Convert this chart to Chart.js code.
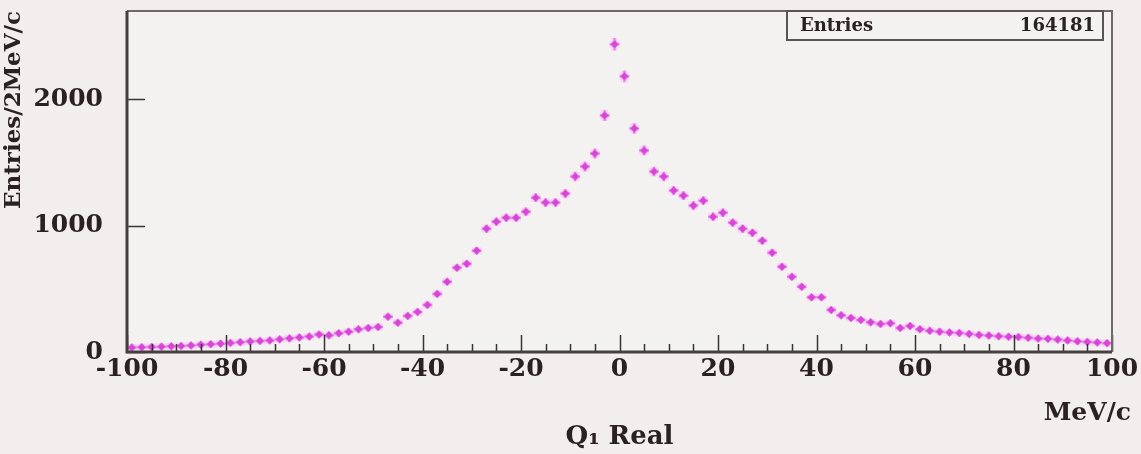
<!DOCTYPE html>
<html>
<head>
<meta charset="utf-8">
<script src="https://cdn.jsdelivr.net/npm/chart.js@4.4.1/dist/chart.umd.min.js"></script>
<style>
  html, body { margin: 0; padding: 0; background: #f2eeee; }
  #wrap { width: 1141px; height: 454px; }
</style>
</head>
<body>
<div id="wrap"><canvas id="c" width="1141" height="454"></canvas></div>
<script>
// ---- data ----
const binCenters = [
  -99,-97,-95,-93,-91,-89,-87,-85,-83,-81,-79,-77,-75,-73,-71,-69,-67,-65,-63,-61,
  -59,-57,-55,-53,-51,-49,-47,-45,-43,-41,-39,-37,-35,-33,-31,-29,-27,-25,-23,-21,
  -19,-17,-15,-13,-11,-9,-7,-5,-3,-1,
  1,3,5,7,9,11,13,15,17,19,21,23,25,27,29,31,33,35,37,39,
  41,43,45,47,49,51,53,55,57,59,61,63,65,67,69,71,73,75,77,79,
  81,83,85,87,89,91,93,95,97,99
];
const entries = [
  35,38,40,42,45,48,52,58,62,66,72,78,84,88,92,100,108,115,122,138,
  132,148,160,180,190,198,280,232,286,317,373,460,556,667,698,802,976,1032,1063,1063,
  1111,1222,1183,1183,1254,1389,1468,1571,1873,2437,
  2183,1770,1595,1429,1389,1278,1238,1159,1198,1071,1103,1024,976,944,881,786,675,595,516,433,
  433,333,290,270,254,235,222,228,190,205,180,168,160,155,150,143,135,130,125,120,
  118,112,106,104,98,92,85,80,75,70
];
const binWidth = 2;
const xTickValues = [-100,-80,-60,-40,-20,0,20,40,60,80,100];
const yTickValues = [0,1000,2000];
const statsLabel = "Entries";
const statsValue = "164181";

const SERIF = "'DejaVu Serif', 'Liberation Serif', serif";
const points = binCenters.map((c, i) => ({ x: c, y: entries[i] }));
const TARGET = { left: 127, top: 11, right: 1112, bottom: 352 };

const bgPlugin = {
  id: 'bg',
  beforeDraw(chart) {
    const ctx = chart.ctx;
    ctx.save();
    ctx.fillStyle = '#f2eeee';
    ctx.fillRect(0, 0, chart.width, chart.height);
    const a = chart.chartArea;
    ctx.fillStyle = '#f4f1f1';
    ctx.fillRect(a.left, a.top, a.right - a.left, a.bottom - a.top);
    ctx.restore();
  }
};

const errPlugin = {
  id: 'errbars',
  beforeDatasetsDraw(chart) {
    const ctx = chart.ctx, xs = chart.scales.x, ys = chart.scales.y;
    ctx.save();
    ctx.lineCap = 'butt';
    const draw = (lw, col) => {
      ctx.strokeStyle = col; ctx.lineWidth = lw;
      ctx.beginPath();
      binCenters.forEach((c, i) => {
        const v = entries[i];
        const px = xs.getPixelForValue(c), py = ys.getPixelForValue(v);
        ctx.moveTo(xs.getPixelForValue(c - binWidth / 2), py);
        ctx.lineTo(xs.getPixelForValue(c + binWidth / 2), py);
        const e = Math.sqrt(v);
        ctx.moveTo(px, ys.getPixelForValue(v + e));
        ctx.lineTo(px, ys.getPixelForValue(Math.max(0, v - e)));
      });
      ctx.stroke();
    };
    draw(7, 'rgba(245,170,245,0.35)');
    draw(2.5, 'rgba(232,100,232,0.65)');
    ctx.restore();
  }
};

const framePlugin = {
  id: 'frame',
  afterDraw(chart) {
    const ctx = chart.ctx, a = chart.chartArea, xs = chart.scales.x, ys = chart.scales.y;
    ctx.save();
    // ticks (inward)
    ctx.strokeStyle = '#3a3434';
    ctx.lineWidth = 1.5;
    ctx.beginPath();
    for (let v = -100; v <= 100; v += 5) {
      const px = Math.round(xs.getPixelForValue(v)) + 0.5;
      const len = (v % 20 === 0) ? 17 : 8;
      ctx.moveTo(px, a.bottom);
      ctx.lineTo(px, a.bottom - len);
    }
    yTickValues.forEach(v => {
      const py = Math.round(ys.getPixelForValue(v)) + 0.5;
      ctx.moveTo(a.left, py);
      ctx.lineTo(a.left + 18, py);
    });
    ctx.stroke();
    // frame
    ctx.strokeStyle = '#6e6868';
    ctx.lineWidth = 2;
    ctx.beginPath();
    ctx.moveTo(a.left, a.top); ctx.lineTo(a.right, a.top); ctx.lineTo(a.right, a.bottom);
    ctx.stroke();
    ctx.strokeStyle = '#463f3f';
    ctx.lineWidth = 3;
    ctx.beginPath();
    ctx.moveTo(a.left, a.top); ctx.lineTo(a.left, a.bottom); ctx.lineTo(a.right, a.bottom);
    ctx.stroke();
    // stats box
    const bx = 787, by = 11, bw = 316, bh = 29;
    ctx.fillStyle = '#f4f1f1';
    ctx.fillRect(bx, by, bw, bh);
    ctx.strokeStyle = '#5a5454';
    ctx.lineWidth = 2;
    ctx.strokeRect(bx, by, bw, bh);
    ctx.fillStyle = '#2a2222';
    ctx.font = 'bold 18px ' + SERIF;
    ctx.textBaseline = 'middle';
    ctx.textAlign = 'left';
    ctx.fillText(statsLabel, bx + 13, by + bh / 2 + 1);
    ctx.textAlign = 'right';
    ctx.fillText(statsValue, bx + bw - 8, by + bh / 2 + 1);
    // unit label
    ctx.font = 'bold 25px ' + SERIF;
    ctx.textAlign = 'right';
    ctx.textBaseline = 'alphabetic';
    ctx.fillText('MeV/c', 1131, 420);
    ctx.restore();
  }
};

const chart = new Chart(document.getElementById('c'), {
  type: 'scatter',
  data: {
    datasets: [{
      data: points,
      pointStyle: 'rectRot',
      pointRadius: 4,
      backgroundColor: '#d846d8',
      borderColor: 'rgba(225,110,225,0.8)',
      borderWidth: 1
    }]
  },
  options: {
    responsive: false,
    animation: false,
    layout: { padding: { top: 11, right: 29, left: 0, bottom: 0 } },
    plugins: {
      legend: { display: false },
      tooltip: { enabled: false },
      title: { display: false }
    },
    scales: {
      x: {
        type: 'linear',
        min: -100, max: 100,
        grid: { display: false, drawTicks: false },
        border: { display: false },
        afterBuildTicks(s) { s.ticks = xTickValues.map(v => ({ value: v })); },
        afterFit(s) { s.height = 102; s.paddingLeft = 0; s.paddingRight = 0; },
        ticks: {
          color: '#2a2222',
          padding: 2,
          maxRotation: 0,
          font: { family: SERIF, size: 25, weight: 'bold' },
          callback: v => String(v)
        },
        title: {
          display: true,
          text: 'Q\u2081 Real',
          color: '#2a2222',
          font: { family: SERIF, size: 26, weight: 'bold' },
          padding: { top: 0, bottom: 1 }
        }
      },
      y: {
        min: 0, max: 2700,
        grid: { display: false, drawTicks: false },
        border: { display: false },
        afterBuildTicks(s) { s.ticks = yTickValues.map(v => ({ value: v })); },
        afterFit(s) { s.width = 127; s.paddingTop = 0; s.paddingBottom = 0; },
        ticks: {
          color: '#2a2222',
          padding: 24,
          font: { family: SERIF, size: 25, weight: 'bold' },
          callback: v => String(v)
        },
        title: {
          display: true,
          text: 'Entries/2MeV/c',
          align: 'end',
          color: '#2a2222',
          font: { family: SERIF, size: 23, weight: 'bold' },
          padding: { top: 0, bottom: 0 }
        }
      }
    }
  },
  plugins: [bgPlugin, errPlugin, framePlugin]
});

// nudge layout padding so the plot frame lands where the reference has it
(function fix() {
  const a = chart.chartArea, p = chart.options.layout.padding;
  const dTop = TARGET.top - a.top, dBot = a.bottom - TARGET.bottom;
  const dLeft = TARGET.left - a.left, dRight = a.right - TARGET.right;
  if (Math.abs(dTop) + Math.abs(dBot) + Math.abs(dLeft) + Math.abs(dRight) > 0.5) {
    p.top += dTop; p.bottom += dBot; p.left += dLeft; p.right += dRight;
    chart.update('none');
  }
})();
</script>
</body>
</html>
